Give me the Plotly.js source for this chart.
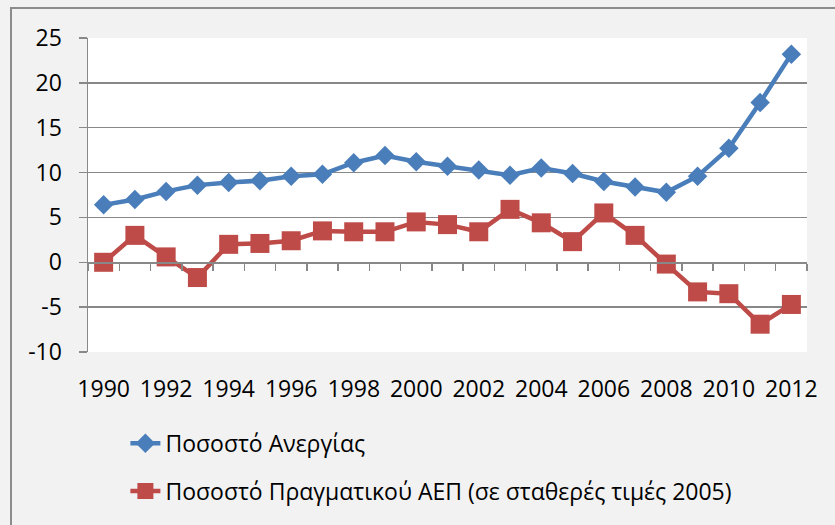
<!DOCTYPE html>
<html>
<head>
<meta charset="utf-8">
<script src="https://cdn.plot.ly/plotly-3.0.1.min.js"></script>
<style>
  html, body { margin: 0; padding: 0; background: #f2f2f2; }
  #wrap { position: relative; width: 835px; height: 525px; overflow: hidden; }
  #chart { position: absolute; left: 0; top: 0; width: 835px; height: 525px; }
  #frame { position: absolute; left: 10px; top: 7px; width: 900px; height: 600px;
           border-left: 2px solid #8c8c8c; border-top: 2px solid #8c8c8c; pointer-events: none; }
</style>
</head>
<body>
<div id="wrap">
  <div id="chart"></div>
  <div id="frame"></div>
</div>
<script>
const years = [1990, 1991, 1992, 1993, 1994, 1995, 1996, 1997, 1998, 1999, 2000, 2001,
               2002, 2003, 2004, 2005, 2006, 2007, 2008, 2009, 2010, 2011, 2012];
const unemployment = [6.4, 7.0, 7.9, 8.6, 8.9, 9.1, 9.6, 9.8, 11.1, 11.9, 11.2, 10.7,
                      10.3, 9.7, 10.5, 9.9, 9.0, 8.4, 7.8, 9.6, 12.7, 17.8, 23.2];
const realGdp = [0.0, 3.0, 0.6, -1.7, 2.0, 2.1, 2.4, 3.5, 3.4, 3.4, 4.5, 4.2,
                 3.4, 5.9, 4.4, 2.3, 5.5, 3.0, -0.2, -3.3, -3.5, -6.9, -4.7];
const seriesNames = ["Ποσοστό Ανεργίας", "Ποσοστό Πραγματικού ΑΕΠ (σε σταθερές τιμές 2005)"];
const xTickVals = [1990, 1992, 1994, 1996, 1998, 2000, 2002, 2004, 2006, 2008, 2010, 2012];
const xTickText = ["1990", "1992", "1994", "1996", "1998", "2000", "2002", "2004", "2006", "2008", "2010", "2012"];
const yTickVals = [-10, -5, 0, 5, 10, 15, 20, 25];
const yTickText = ["-10", "-5", "0", "5", "10", "15", "20", "25"];

const blue = "#4a7ebb";
const red = "#be4b48";
const gridCol = "#888888";
const FONT = "'Open Sans', 'Noto Sans', sans-serif";
const FS = 23;

const xRange = [years[0] - 0.5, years[years.length - 1] + 0.5];
const yRange = [yTickVals[0], yTickVals[yTickVals.length - 1]];

const traces = [
  {
    x: years, y: unemployment, name: seriesNames[0], type: "scatter", mode: "lines+markers",
    line: { color: blue, width: 4.5 },
    marker: { symbol: "diamond", size: 15, color: blue },
    legendgroup: "a", hoverinfo: "x+y"
  },
  {
    x: years, y: realGdp, name: seriesNames[1], type: "scatter", mode: "lines+markers",
    xaxis: "x2",
    line: { color: red, width: 4.5 },
    marker: { symbol: "square", size: 19, color: red },
    legendgroup: "b", hoverinfo: "x+y"
  }
];

const layout = {
  width: 835, height: 525, autosize: false,
  paper_bgcolor: "#f2f2f2", plot_bgcolor: "#ffffff",
  margin: { l: 88, r: 28, t: 38, b: 171 },
  font: { family: FONT, size: FS, color: "#000000" },
  showlegend: true,
  xaxis: {
    type: "linear", range: xRange, tickmode: "array",
    tickvals: xTickVals, ticktext: xTickText,
    ticks: "", showgrid: false, zeroline: false, showline: false,
    ticklabelstandoff: 21,
    tickfont: { family: FONT, size: FS, color: "#000" }
  },
  xaxis2: {
    type: "linear", range: xRange, overlaying: "x", anchor: "free",
    position: (0 - yRange[0]) / (yRange[1] - yRange[0]),
    showticklabels: false, showgrid: false, zeroline: false,
    showline: true, linecolor: gridCol, linewidth: 1.5,
    ticks: "outside", ticklen: 7, tickwidth: 1.5, tickcolor: gridCol,
    tick0: years[0] - 0.5, dtick: 1, tickmode: "linear"
  },
  yaxis: {
    range: yRange, tickmode: "array", tickvals: yTickVals, ticktext: yTickText,
    showgrid: true, gridcolor: gridCol, gridwidth: 1.5,
    zeroline: false, showline: true, linecolor: gridCol, linewidth: 1.5,
    ticks: "outside", ticklen: 8, tickwidth: 1.5, tickcolor: gridCol,
    ticklabelstandoff: 12,
    tickfont: { family: FONT, size: FS, color: "#000" }
  },
  legend: {
    orientation: "v", xref: "paper", yref: "paper",
    x: 0.052, y: -0.222, xanchor: "left", yanchor: "top",
    bgcolor: "rgba(0,0,0,0)", borderwidth: 0,
    traceorder: "grouped", tracegroupgap: 15,
    font: { family: FONT, size: FS, color: "#000" }
  }
};

Plotly.newPlot("chart", traces, layout, { displayModeBar: false, staticPlot: true });
</script>
</body>
</html>
